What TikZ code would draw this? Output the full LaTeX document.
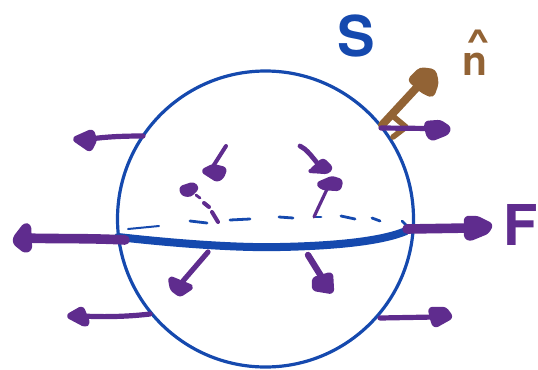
\documentclass[tikz,border=0pt]{standalone}
\usepackage{amsmath,amssymb}
\usepackage{fontspec}
\setsansfont{TeX Gyre Heros}
\definecolor{sphereblue}{HTML}{1549AE}
\definecolor{forcepurple}{HTML}{5F2C8E}
\definecolor{normalbrown}{HTML}{926335}
\tikzset{
  force/.style={forcepurple,line width=0.13cm,line cap=round},
  bigforce/.style={forcepurple,line width=0.24cm,line cap=round},
  stem/.style={forcepurple,line width=0.1cm,line cap=round},
  blob/.style={fill=forcepurple,draw=forcepurple,line width=0.11cm,line join=round,rounded corners=0.06cm},
  rim/.style={sphereblue,line width=0.07cm,line cap=round}
}
\begin{document}
\begin{tikzpicture}[x=0.025cm,y=-0.025cm]
\useasboundingbox (0,0) rectangle (538,369);
\draw[sphereblue,line width=0.08cm] (265.5,219) circle (148);
\draw[rim,line width=0.05cm] (128,229) -- (159,226);
\draw[rim] (190,221) -- (207,223);
\draw[rim] (230,220) -- (250,219);
\draw[rim] (279,217) -- (293,218);
\draw[rim] (315,217) -- (321,217);
\draw[rim] (341,216) -- (355,219);
\draw[rim] (372,218) -- (380,221);
\draw[rim] (402,221) -- (407,226);
\draw[sphereblue,line width=0.2cm,line cap=round] (118,237) .. controls (180,244) and (240,248) .. (280,247) .. controls (330,246) and (380,242) .. (406,231);
\draw[force] (143,136) .. controls (120,136) and (105,137) .. (90,139);
\draw[blob] (74,139) -- (92,131) -- (95,140) -- (90,150) -- cycle;
\draw[bigforce] (125,240) .. controls (90,238) and (50,239) .. (25,238);
\draw[blob] (15,238) -- (25,225) -- (29,226) -- (30,249) -- (25,251) -- (15,243) -- cycle;
\draw[force] (150,314) .. controls (125,317) and (100,317) .. (82,316);
\draw[blob] (68,316) -- (82,308) -- (88,323) -- (85,325) -- cycle;
\draw[force] (380,318) -- (435,317);
\draw[blob] (430,309) -- (445,309) -- (451,317) -- (435,326) -- (433,322) -- cycle;
\draw[bigforce] (407,229) -- (470,228);
\draw[blob] (466,218) -- (477,218) -- (491,225) -- (487,232) -- (470,239) -- (466,237) -- cycle;
\draw[stem] (226,146) -- (212,168);
\draw[blob] (203,171) -- (213,166) -- (225,169) -- (222,177) -- (217,180) -- cycle;
\draw[stem,line width=0.12cm] (300,146) .. controls (306,149) and (310,154) .. (318,164);
\draw[blob] (311,171) -- (323,160) -- (331,168) -- (327,172) -- (313,171) -- cycle;
\draw[stem,line width=0.13cm] (208,252) -- (183,281);
\draw[blob] (170,278) -- (192,287) -- (180,295) -- (172,289) -- cycle;
\draw[stem,line width=0.16cm] (308,255) -- (321,276);
\draw[blob] (314,279) -- (331,274) -- (332,292) -- (314,289) -- cycle;
\draw[stem] (218,222) -- (212,212);
\draw[stem] (209,207) -- (204,203);
\draw[stem,line width=0.07cm] (200,198) -- (196,195);
\draw[blob] (181,188) -- (193,184) -- (197,188) -- (190,195) -- (183,194) -- cycle;
\draw[stem,line width=0.08cm] (314,217) .. controls (318,208) and (322,200) .. (328,187);
\draw[blob] (318,184) -- (332,178) -- (341,181) -- (339,189) -- (323,188) -- cycle;
\draw[normalbrown,line width=0.2cm,line cap=round] (382,125) -- (420,84);
\draw[normalbrown,fill=normalbrown,line width=0.05cm,line join=round,rounded corners=0.1cm] (408,80) -- (420,68) -- (435,70) -- (438,83) -- (433,97) -- (423,93) -- cycle;
\draw[normalbrown,line width=0.14cm,line cap=round,line join=round] (394,117) -- (406,127) -- (393,137);
\draw[force] (381,128) -- (430,128.5);
\draw[blob] (426,123) -- (440,122) -- (449,128) -- (447,133) -- (432,139) -- (428,135) -- cycle;
\node[sphereblue,font=\sffamily\bfseries\fontsize{40}{40}\selectfont,inner sep=0pt] (surface) at (356,36) {S};
\node[forcepurple,font=\sffamily\bfseries\fontsize{40}{40}\selectfont,inner sep=0pt] (force) at (521,225) {F};
\node[normalbrown,font=\sffamily\bfseries\fontsize{29}{29}\selectfont,inner sep=0pt,anchor=base] (normal) at (475,75) {n};
\node[normalbrown,font=\sffamily\bfseries\fontsize{22}{22}\selectfont,inner sep=0pt,anchor=base,xscale=1.4] (normalhat) at (478,51) {\textasciicircum};
\end{tikzpicture}
\end{document}
